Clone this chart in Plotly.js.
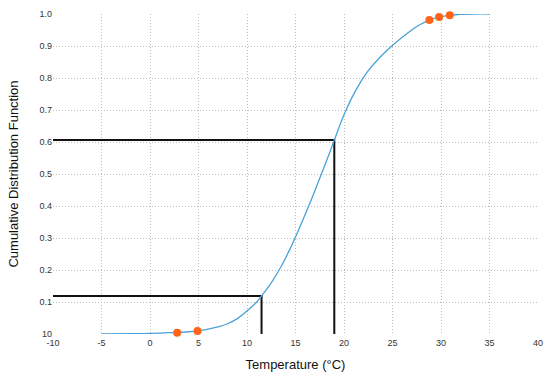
<!DOCTYPE html>
<html>
<head>
<meta charset="utf-8">
<script src="https://cdn.plot.ly/plotly-3.0.1.min.js"></script>
<style>html,body{margin:0;padding:0;background:#fff;}#chart{width:550px;height:382px;}</style>
</head>
<body>
<div id="chart"></div>
<script>
// CDF curve (temperature vs cumulative probability)
const cdfTemp = [-5, -2, 0, 2, 4, 5, 6, 7, 8, 9, 10, 11, 11.5, 12.5, 13.5, 14.5, 15.5, 16.5, 17.5, 18.5, 19, 20, 20.8, 21.8, 22.5, 23.5, 24.5, 25.5, 26.5, 27.5, 28.8, 29.8, 30.9, 32, 33.5, 35];
const cdfProb = [0, 0.001, 0.002, 0.004, 0.007, 0.01, 0.015, 0.022, 0.032, 0.048, 0.072, 0.1, 0.119, 0.16, 0.21, 0.27, 0.338, 0.41, 0.487, 0.565, 0.606, 0.685, 0.738, 0.792, 0.823, 0.858, 0.888, 0.915, 0.939, 0.961, 0.981, 0.991, 0.996, 0.999, 1.0, 1.0];
// highlighted points
const ptTemp = [2.8, 4.9, 28.8, 29.8, 30.9];
const ptProb = [0.004, 0.009, 0.981, 0.991, 0.996];
// reference guides
const guideHighTemp = [-10, 19, 19];
const guideHighProb = [0.606, 0.606, 0];
const guideLowTemp = [-10, 11.5, 11.5];
const guideLowProb = [0.119, 0.119, 0];
// ticks
const xTicks = [-10, -5, 0, 5, 10, 15, 20, 25, 30, 35, 40];
const yTickVals = [0, 0.1, 0.2, 0.3, 0.4, 0.5, 0.6, 0.7, 0.8, 0.9, 1.0];
const yTickText = ['10', '0.1', '0.2', '0.3', '0.4', '0.5', '0.6', '0.7', '0.8', '0.9', '1.0'];

const traces = [
  {x: guideHighTemp, y: guideHighProb, mode: 'lines', line: {color: '#111', width: 2}, hoverinfo: 'skip', cliponaxis: false},
  {x: guideLowTemp, y: guideLowProb, mode: 'lines', line: {color: '#111', width: 2}, hoverinfo: 'skip', cliponaxis: false},
  {x: cdfTemp, y: cdfProb, mode: 'lines', line: {color: '#4aa3d8', width: 1.3, shape: 'spline', smoothing: 1.1}, cliponaxis: false},
  {x: ptTemp, y: ptProb, mode: 'markers', marker: {color: '#ff6418', size: 8}, cliponaxis: false}
];

const fontFam = 'Liberation Sans, Arial, sans-serif';
const axisCommon = {
  showgrid: true, gridcolor: '#bdbdbd', griddash: '1px,2px', gridwidth: 1,
  zeroline: false, showline: false, ticks: '',
  tickfont: {family: fontFam, size: 9, color: '#333'}
};

const layout = {
  width: 550, height: 382,
  margin: {l: 53, r: 12, t: 14, b: 48},
  paper_bgcolor: '#fff', plot_bgcolor: '#fff',
  showlegend: false,
  xaxis: Object.assign({}, axisCommon, {
    range: [-10, 40], tickvals: xTicks, ticktext: xTicks.map(String),
    ticklabelstandoff: 2,
    title: {text: 'Temperature (°C)', standoff: 12, font: {family: fontFam, size: 13, color: '#111'}}
  }),
  yaxis: Object.assign({}, axisCommon, {
    range: [0, 1], tickvals: yTickVals, ticktext: yTickText,
    title: {text: 'Cumulative Distribution Function', standoff: 17, font: {family: fontFam, size: 13, color: '#111'}}
  })
};

Plotly.newPlot('chart', traces, layout, {staticPlot: true, displayModeBar: false});
</script>
</body>
</html>
